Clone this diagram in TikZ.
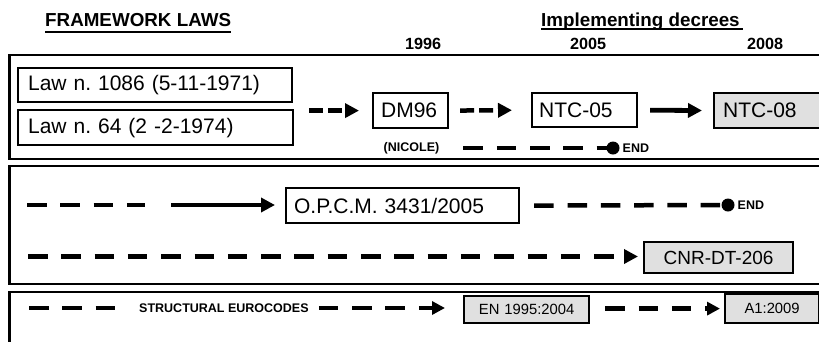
\documentclass[tikz,border=0pt]{standalone}
\usepackage{fontspec}
\setmainfont{Liberation Sans}
\usetikzlibrary{arrows.meta}
\definecolor{boxgray}{RGB}{224,224,224}
\frenchspacing
\newcommand\boxfont{\fontsize{21bp}{24bp}\selectfont}
\newcommand\midfont{\fontsize{19bp}{22bp}\selectfont}
\newcommand\smallboxfont{\fontsize{14.8bp}{17bp}\selectfont}
\newcommand\headfont{\fontsize{18.8bp}{22bp}\selectfont\bfseries}
\newcommand\yearfont{\fontsize{16.2bp}{19bp}\selectfont\bfseries}
\newcommand\tagfont{\fontsize{12.5bp}{15bp}\selectfont\bfseries}
\begin{document}
\begin{tikzpicture}[x=1bp,y=-1bp,
  panel/.style={draw, line width=2.5bp},
  box/.style={draw, line width=2.2bp, inner ysep=0pt, anchor=north west},
  graybox/.style={box, fill=boxgray},
  label/.style={inner sep=0pt},
  uline/.style={line width=2bp},
  ldash/.style={line width=4.5bp, dash pattern=on 19.5bp off 13.8bp},
  sdash/.style={line width=4.5bp, dash pattern=on 14bp off 5bp},
  solidarrow/.style={line width=4.8bp},
  bigtip/.style={-{Triangle[length=14bp,width=14bp]}},
  smalltip/.style={-{Triangle[length=13bp,width=13bp]}},
  enddot/.style={circle, fill, inner sep=0pt, minimum size=13bp}
]
\useasboundingbox (0,0) rectangle (819,341);
\clip (0,0) rectangle (819,341);

% headings
\node[label, anchor=base west, font=\headfont] (fw) at (45,26) {FRAMEWORK LAWS};
\draw[uline] ([yshift=-5.6bp]fw.base west) -- ([yshift=-5.6bp]fw.base east);
\node[label, anchor=base west, font=\headfont] (imp) at (541,26) {Implementing decrees};
\draw[uline] ([yshift=-3.2bp]imp.base west) -- ([yshift=-3.2bp,xshift=3bp]imp.base east);

% years
\node[label, anchor=base west, font=\yearfont] (y96) at (405,49) {1996};
\node[label, anchor=base west, font=\yearfont] (y05) at (570,49) {2005};
\node[label, anchor=base west, font=\yearfont] (y08) at (747,49) {2008};

% panels
\draw[panel] (9.5,55) rectangle (840,159);
\draw[panel] (9.5,166) rectangle (840,284);
\draw[panel] (9.5,292) rectangle (840,380);

% first panel: laws and decrees
\node[box, text width=254bp, inner xsep=10bp, minimum height=34bp, align=left, font=\boxfont] (law1) at (17,67) {Law n. 1086 (5-11-1971)};
\node[box, text width=255bp, inner xsep=10bp, minimum height=35bp, align=left, font=\boxfont] (law2) at (17,109) {Law n. 64 (2 -2-1974)};
\node[box, text width=59bp, inner xsep=8bp, minimum height=35bp, align=left, font=\boxfont] (dm) at (372,92) {DM96};
\node[box, text width=91bp, inner xsep=7bp, minimum height=34bp, align=left, font=\boxfont] (ntc5) at (531,92) {NTC-05};
\node[graybox, text width=110bp, inner xsep=9bp, minimum height=35bp, align=left, font=\boxfont] (ntc8) at (713,92) {NTC-08};

\draw[sdash, bigtip, shorten <=15bp, shorten >=13bp] (law2.east |- dm.west) -- (dm.west);
\draw[sdash, bigtip, shorten <=11bp, shorten >=19bp] (dm.east) -- (ntc5.west);
\draw[solidarrow, bigtip, shorten <=12bp, shorten >=11bp] (ntc5.east) -- (ntc8.west);

\node[label, font=\tagfont] (nicole) at (411.5,148) {(NICOLE)};
\node[enddot] (dot1) at (613,148) {};
\node[label, anchor=west, font=\tagfont] (end1) at (622.5,148) {END};
\draw[ldash, shorten <=24bp] (nicole.east) -- (dot1.center);

% second panel: O.P.C.M. and CNR
\coordinate (s1) at (27,205);
\coordinate (s1b) at (145,205);
\coordinate (s1c) at (171,205);
\node[box, text width=217bp, inner xsep=8bp, minimum height=35bp, align=left, font=\boxfont] (opcm) at (285,187) {O.P.C.M. 3431/2005};
\draw[ldash] (s1) -- (s1b);
\draw[solidarrow, bigtip, shorten >=10bp] (s1c) -- (s1c -| opcm.west);
\node[enddot] (dot2) at (728,205) {};
\node[label, anchor=west, font=\tagfont] (end2) at (737.5,205) {END};
\draw[ldash, shorten <=14bp] (opcm.east) -- (dot2.center);

\node[graybox, text width=129bp, inner xsep=10bp, minimum height=31bp, align=center, font=\midfont] (cnr) at (643,241) {CNR-DT-206};
\coordinate (s2) at (28,256.5);
\draw[ldash, bigtip, shorten >=5bp] (s2) -- (s2 -| cnr.west);

% third panel: Eurocodes
\coordinate (s3) at (29,308);
\node[label, anchor=west, font=\tagfont] (euro) at (139,308) {STRUCTURAL EUROCODES};
\node[graybox, text width=105bp, inner xsep=10bp, minimum height=27bp, align=center, font=\smallboxfont] (en) at (463,295) {EN 1995:2004};
\node[graybox, text width=76bp, inner xsep=9bp, minimum height=29bp, align=center, font=\smallboxfont] (a1) at (724,293) {A1:2009};
\draw[ldash, shorten >=23bp] (s3) -- (euro.west);
\draw[ldash, smalltip, shorten <=10bp, shorten >=18bp] (euro.east) -- (euro.east -| en.west);
\draw[ldash, smalltip, shorten <=15bp, shorten >=4bp] (en.east |- a1.west) -- (a1.west);
\end{tikzpicture}
\end{document}
